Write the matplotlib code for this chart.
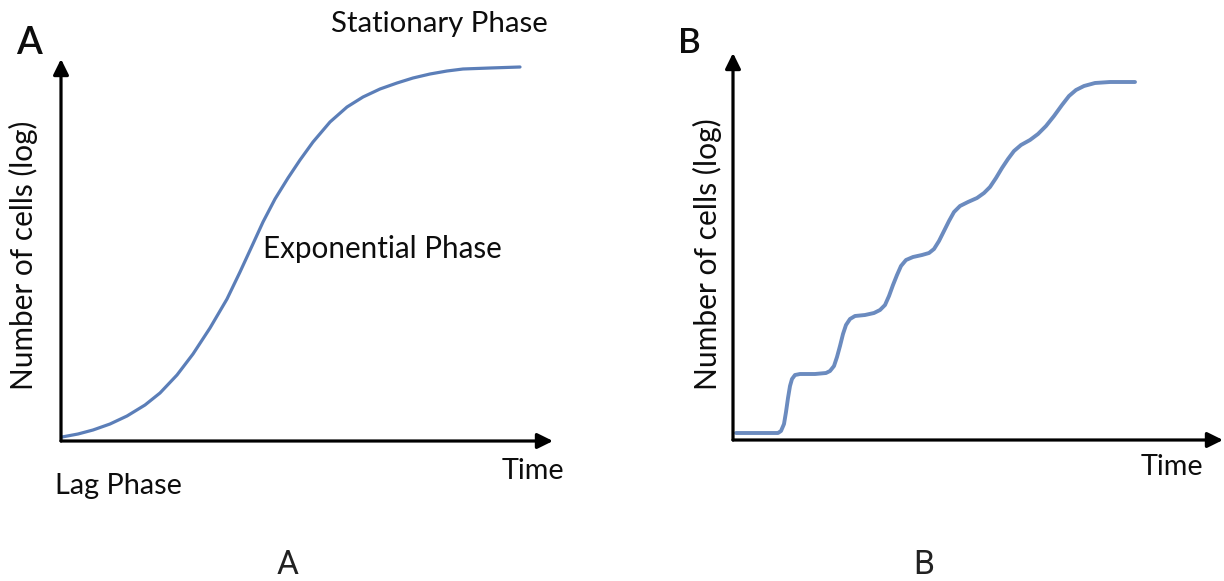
import matplotlib
matplotlib.use("Agg")
import matplotlib.pyplot as plt

# ---------------- data ----------------
# Panel A: classic growth curve (time, log number of cells), arbitrary units
time_a = [1, 17, 32, 49, 66, 84, 99, 116, 132, 149, 166, 179, 191, 202, 214,
          227, 239, 252, 269, 286, 302, 319, 336, 352, 369, 386, 402, 429, 459]
cells_a = [4, 7, 11, 17, 25, 36, 48, 66, 87, 113, 142, 169, 195, 219, 242,
           263, 281, 299, 319, 334, 344, 352, 358, 363, 367, 370, 372, 373, 374]

# Panel B: synchronous (stepwise) growth curve
time_b = [3, 27, 45, 48, 51, 53, 55, 57, 59, 62, 67, 82, 93, 97, 101, 104, 107,
          110, 113, 117, 122, 132, 141, 147, 152, 156, 160, 164, 168, 173, 180,
          189, 196, 201, 206, 211, 216, 221, 227, 235, 244, 251, 257, 263, 269,
          275, 281, 288, 297, 305, 313, 321, 329, 336, 343, 351, 362, 377, 402]
cells_b = [7, 7, 7, 9, 16, 28, 42, 54, 61, 65, 66, 66, 67, 69, 74, 83, 94, 106,
           115, 121, 124, 125, 127, 130, 135, 144, 155, 165, 174, 180, 183, 185,
           187, 191, 199, 209, 219, 228, 234, 238, 242, 247, 253, 262, 272, 281,
           289, 295, 300, 306, 314, 324, 335, 344, 350, 354, 357, 358, 358]

y_label = "Number of cells (log)"
x_label = "Time"
phase_labels = ["Lag Phase", "Exponential Phase", "Stationary Phase"]
panel_names = ["A", "B"]

# ---------------- figure ----------------
W, H = 1224, 581
fig = plt.figure(figsize=(W / 100, H / 100), dpi=100)
fig.patch.set_facecolor("white")
renderer = fig.canvas.get_renderer()

LINE_COLOR = "#5b7eb8"
TXT_FONT = ["Lato", "DejaVu Sans"]
TXT_COLOR = "#0d0d0d"


def px_axes(left, top, right, bottom):
    ax = fig.add_axes([left / W, 1 - bottom / H, (right - left) / W, (bottom - top) / H])
    ax.set_xlim(0, right - left)
    ax.set_ylim(0, bottom - top)
    ax.axis("off")
    return ax


def arrows(ax):
    style = "-|>,head_length=0.85,head_width=0.42"
    for xy in [(1, 0), (0, 1)]:
        ax.annotate("", xy=xy, xytext=(0, 0), xycoords="axes fraction",
                    textcoords="axes fraction",
                    arrowprops=dict(arrowstyle=style, mutation_scale=11, lw=2.3,
                                    color="black", shrinkA=0, shrinkB=0),
                    annotation_clip=False)


def fit_text(s, x0, x1, base, family=TXT_FONT, weight="normal", color=TXT_COLOR):
    t = fig.text(x0 / W, 1 - base / H, s, ha="left", va="baseline",
                 fontsize=20, family=family, weight=weight, color=color)
    bb = t.get_window_extent(renderer)
    t.set_fontsize(20 * (x1 - x0) / bb.width)
    return t


def cap_text(s, x0, base, cap_px, cap_ratio=0.7165, family=TXT_FONT,
             color=TXT_COLOR, weight="normal"):
    size_pt = cap_px / cap_ratio * 72 / 100
    return fig.text(x0 / W, 1 - base / H, s, ha="left", va="baseline",
                    fontsize=size_pt, family=family, color=color, weight=weight)


def fit_vtext(s, ybot, ytop, base_x, family=TXT_FONT, color=TXT_COLOR):
    t = fig.text(base_x / W, 1 - ybot / H, s, ha="left", va="baseline",
                 rotation=90, rotation_mode="anchor",
                 fontsize=20, family=family, color=color)
    bb = t.get_window_extent(renderer)
    t.set_fontsize(20 * (ybot - ytop) / bb.height)
    return t


# Panel A
axA = px_axes(61, 59, 553, 441)
axA.plot(time_a, cells_a, color=LINE_COLOR, lw=2.3, solid_capstyle="round",
         solid_joinstyle="round", clip_on=False)
arrows(axA)

# Panel B
axB = px_axes(733, 53, 1223, 440)
axB.plot(time_b, cells_b, color=LINE_COLOR, lw=2.8, alpha=0.9,
         solid_capstyle="round", solid_joinstyle="round", clip_on=False)
arrows(axB)

# texts panel A
fit_text(phase_labels[2], 331, 548, 32)
fit_text(phase_labels[1], 263, 502, 258)
fit_text(phase_labels[0], 55, 182, 494)
fit_text(x_label, 502, 565, 479)
fit_vtext(y_label, 390, 120, 33)
cap_text(panel_names[0], 16, 54, 27, weight="semibold")

# texts panel B
fit_text(x_label, 1141, 1204, 475)
fit_vtext(y_label, 390, 118, 717)
cap_text(panel_names[1], 678, 53, 25, weight="semibold")

# bottom captions
for name, x0 in [(panel_names[0], 277), (panel_names[1], 913)]:
    cap_text(name, x0, 574, 24, cap_ratio=0.711,
             family=["Roboto", "DejaVu Sans"], color="#222222")

fig.savefig("out.png", dpi=100, facecolor="white")
